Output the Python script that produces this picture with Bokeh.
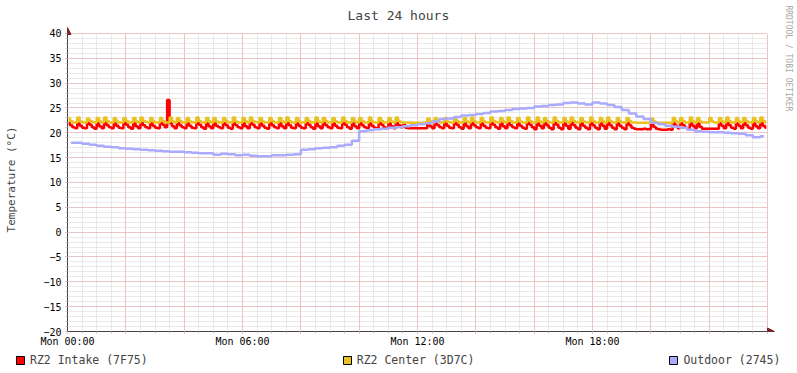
import math
from bokeh.plotting import figure
from bokeh.layouts import column, row
from bokeh.core.properties import value
from bokeh.models import (FixedTicker, Legend, LegendItem, Range1d, Arrow, NormalHead)
from bokeh.embed import file_html
from bokeh.resources import INLINE

# ---------------- data ----------------
TITLE = "Last 24 hours"
Y_LABEL = "Temperature (°C)"
WATERMARK = "RRDTOOL / TOBI OETIKER"
HOUR_TICKS = [0, 6, 12, 18]
HOUR_LABELS = ["Mon 00:00", "Mon 06:00", "Mon 12:00", "Mon 18:00"]
Y_TICKS = [-20, -15, -10, -5, 0, 5, 10, 15, 20, 25, 30, 35, 40]
SERIES_NAMES = ["RZ2 Intake (7F75)", "RZ2 Center (3D7C)", "Outdoor (2745)"]
SERIES_COLORS = ["#FF0000", "#EAC21F", "#AAAAFF"]

RZ2_STEP_MIN = 5      # minutes between samples of the RZ2 sensors
OUTDOOR_STEP_MIN = 15  # minutes between samples of the outdoor sensor

# one row per hour (12 x 5 min)
rz2_intake = [
    22.0, 21.5, 21.1, 20.9, 21.9, 21.4, 21.0, 20.9, 22.0, 21.6, 21.1, 20.8,
    21.9, 21.3, 20.9, 22.0, 21.5, 21.1, 20.9, 21.9, 21.4, 21.0, 20.9, 22.0,
    21.6, 21.1, 20.8, 21.9, 21.3, 20.9, 22.0, 21.5, 21.1, 20.9, 21.9, 21.4,
    21.0, 20.9, 22.0, 21.6, 21.1, 26.6, 21.9, 21.3, 20.9, 22.0, 21.5, 21.1,
    20.9, 21.9, 21.4, 21.0, 20.9, 22.0, 21.6, 21.1, 20.8, 21.9, 21.3, 20.9,
    22.0, 21.4, 21.1, 20.9, 21.9, 21.5, 21.0, 20.8, 22.0, 21.5, 21.1, 20.9,
    21.9, 21.3, 20.9, 22.0, 21.6, 21.1, 20.9, 21.9, 21.4, 21.0, 20.8, 22.0,
    21.5, 21.1, 20.9, 21.9, 21.3, 20.9, 22.0, 21.5, 21.0, 20.9, 21.9, 21.4,
    21.0, 20.9, 22.0, 21.6, 21.1, 20.8, 21.9, 21.3, 20.9, 22.0, 21.5, 21.1,
    20.9, 21.9, 21.4, 21.0, 20.9, 22.0, 21.6, 21.1, 20.8, 21.9, 21.3, 20.9,
    22.0, 21.5, 21.1, 20.9, 21.9, 21.4, 21.0, 20.9, 22.0, 21.6, 21.1, 20.8,
    21.9, 21.3, 20.9, 22.0, 21.5, 21.1, 21.6, 21.0, 20.9, 20.9, 20.9, 20.9,
    20.9, 20.9, 20.9, 20.9, 21.8, 21.3, 20.9, 22.0, 21.5, 21.1, 20.9, 21.9,
    21.4, 21.0, 20.9, 22.0, 21.6, 21.1, 20.8, 21.9, 21.3, 20.9, 22.0, 21.5,
    21.1, 20.9, 21.9, 21.4, 21.0, 20.9, 22.0, 21.6, 21.1, 20.8, 21.9, 21.3,
    20.9, 22.0, 21.5, 21.1, 20.9, 21.9, 21.4, 21.0, 20.8, 22.1, 21.6, 21.1,
    20.7, 22.1, 21.4, 20.9, 22.0, 21.5, 21.0, 20.7, 22.1, 21.6, 21.0, 20.7,
    22.0, 21.4, 20.8, 22.1, 21.5, 21.0, 20.7, 22.0, 21.4, 21.0, 20.7, 22.1,
    21.5, 21.0, 20.7, 22.0, 21.4, 20.8, 22.1, 21.5, 21.0, 20.7, 22.0, 21.4,
    21.0, 20.7, 22.0, 21.5, 21.0, 20.8, 20.7, 20.7, 20.7, 20.8, 20.7, 20.7,
    21.9, 21.2, 20.8, 20.7, 20.6, 20.6, 20.6, 20.7, 20.6, 22.0, 21.4, 20.9,
    21.9, 21.5, 21.0, 20.8, 22.0, 21.4, 20.9, 21.9, 21.2, 20.8, 20.8, 20.8,
    20.8, 20.8, 20.8, 20.8, 21.9, 21.4, 20.9, 22.0, 21.5, 21.0, 20.8, 21.9,
    21.4, 20.9, 22.0, 21.5, 21.0, 20.8, 21.9, 21.3, 20.9, 22.0, 21.4, 21.0,
]

rz2_center = [
    23.0, 22.4, 22.1, 22.1, 23.1, 22.3, 22.1, 22.1, 22.9, 22.4, 22.2, 22.1,
    23.0, 22.3, 22.1, 23.1, 22.4, 22.1, 22.1, 23.0, 22.3, 22.1, 22.1, 23.0,
    22.4, 22.1, 22.1, 23.0, 22.3, 22.1, 23.1, 22.4, 22.2, 22.1, 23.0, 22.3,
    22.1, 22.1, 23.0, 22.4, 22.1, 22.1, 23.1, 22.3, 22.1, 23.0, 22.4, 22.1,
    22.1, 23.0, 22.3, 22.1, 22.1, 23.1, 22.4, 22.1, 22.1, 23.0, 22.3, 22.1,
    23.0, 22.3, 22.1, 22.1, 23.0, 22.4, 22.1, 22.1, 23.1, 22.3, 22.1, 22.1,
    23.0, 22.3, 22.1, 23.1, 22.4, 22.2, 22.1, 23.0, 22.3, 22.1, 22.1, 23.0,
    22.4, 22.1, 22.1, 23.0, 22.3, 22.1, 23.1, 22.4, 22.1, 22.1, 23.0, 22.3,
    22.1, 22.1, 23.0, 22.4, 22.1, 22.1, 23.1, 22.3, 22.1, 23.0, 22.4, 22.1,
    22.1, 23.0, 22.3, 22.1, 22.1, 23.1, 22.4, 22.1, 22.1, 23.0, 22.3, 22.1,
    23.0, 22.4, 22.1, 22.1, 23.1, 22.3, 22.1, 22.1, 23.0, 22.4, 22.1, 22.1,
    23.0, 22.3, 22.1, 23.1, 22.4, 22.1, 22.1, 22.1, 22.0, 22.0, 22.0, 22.0,
    22.0, 22.0, 22.0, 22.1, 22.9, 22.3, 22.1, 23.0, 22.4, 22.1, 22.1, 23.0,
    22.3, 22.1, 22.1, 23.1, 22.4, 22.1, 22.1, 23.0, 22.3, 22.1, 23.1, 22.4,
    22.1, 22.1, 23.0, 22.3, 22.1, 22.1, 23.1, 22.4, 22.2, 22.1, 23.0, 22.3,
    22.1, 23.1, 22.4, 22.1, 22.1, 23.0, 22.3, 22.1, 22.1, 23.1, 22.4, 22.1,
    22.1, 23.1, 22.3, 22.1, 23.0, 22.4, 22.1, 22.1, 23.1, 22.4, 22.1, 22.1,
    23.0, 22.3, 22.1, 23.1, 22.4, 22.1, 22.1, 23.0, 22.3, 22.1, 22.1, 23.1,
    22.4, 22.1, 22.1, 23.0, 22.3, 22.1, 23.1, 22.4, 22.1, 22.1, 23.0, 22.3,
    22.1, 22.1, 23.0, 22.4, 22.1, 22.1, 22.0, 22.0, 22.0, 22.0, 22.0, 22.0,
    22.9, 22.3, 22.1, 22.0, 22.0, 22.0, 22.0, 22.0, 22.0, 23.0, 22.3, 22.1,
    23.0, 22.4, 22.1, 22.1, 23.1, 22.3, 22.1, 23.0, 22.3, 22.1, 22.1, 22.1,
    23.0, 22.3, 22.1, 22.1, 23.0, 22.3, 22.1, 23.1, 22.4, 22.1, 22.1, 23.0,
    22.3, 22.1, 23.0, 22.4, 22.1, 22.1, 23.0, 22.3, 22.1, 23.1, 22.4, 22.1,
]

# one row per hour (4 x 15 min)
outdoor = [
    18.0, 18.0, 17.8, 17.6,
    17.4, 17.2, 17.1, 16.9,
    16.8, 16.7, 16.6, 16.5,
    16.4, 16.3, 16.2, 16.2,
    16.1, 16.0, 15.9, 15.9,
    15.6, 15.8, 15.7, 15.5,
    15.6, 15.4, 15.3, 15.3,
    15.5, 15.5, 15.6, 15.7,
    16.6, 16.7, 16.9, 17.0,
    17.1, 17.4, 17.6, 18.4,
    20.3, 20.5, 20.7, 20.8,
    21.0, 21.1, 21.3, 21.5,
    21.7, 21.9, 22.3, 22.8,
    22.9, 23.2, 23.5, 23.6,
    23.8, 24.0, 24.3, 24.4,
    24.6, 24.8, 24.9, 25.0,
    25.3, 25.4, 25.6, 25.7,
    26.0, 26.1, 25.9, 25.7,
    26.1, 25.9, 25.6, 25.2,
    24.6, 23.9, 23.3, 22.8,
    22.0, 21.7, 21.4, 21.2,
    21.0, 20.6, 20.3, 20.2,
    20.1, 20.1, 20.0, 19.9,
    19.8, 19.5, 19.1, 19.3,
]

assert len(rz2_intake) == 288 and len(rz2_center) == 288 and len(outdoor) == 96

t_rz2 = [(i + 0.5) * RZ2_STEP_MIN / 60.0 for i in range(len(rz2_intake))]
t_out = [(i + 0.5) * OUTDOOR_STEP_MIN / 60.0 for i in range(len(outdoor))]

# ---------------- main figure ----------------
MONO = "DejaVu Sans Mono"
X_MIN, X_MAX, X_END = 0, 24, 24.24
Y_MIN, Y_MAX, Y_END = -20, 40, 41.2

p_main = figure(width=784, height=349, output_backend="svg", toolbar_location=None,
                x_range=Range1d(X_MIN, X_END), y_range=Range1d(Y_MIN, Y_END),
                min_border_left=67, min_border_right=10, min_border_top=27,
                min_border_bottom=16,
                background_fill_color="white", border_fill_color="white")
p_main.outline_line_color = None

# title
p_main.title.text = TITLE
p_main.title.text_font = MONO
p_main.title.text_font_size = "13px"
p_main.title.text_font_style = "normal"
p_main.title.align = "left"
p_main.title.vertical_align = "middle"
p_main.title.offset = 280
p_main.title.standoff = 8

# grids
major_x = list(range(0, 25, 2))
minor_x = [i * 0.5 for i in range(49)]
minor_y = list(range(Y_MIN, Y_MAX + 1))
p_main.xgrid.ticker = FixedTicker(ticks=major_x, minor_ticks=minor_x)
p_main.ygrid.ticker = FixedTicker(ticks=Y_TICKS, minor_ticks=minor_y)
for g in (p_main.xgrid, p_main.ygrid):
    g.grid_line_color = "#EBA0A0"
    g.grid_line_alpha = 1.0
    g.grid_line_dash = "1 1"
    g.minor_grid_line_color = "#D2D2D2"
    g.minor_grid_line_alpha = 1.0
    g.minor_grid_line_dash = "1 1"
p_main.xgrid.cross_bounds = (Y_MIN, Y_MAX)
p_main.ygrid.cross_bounds = (X_MIN, X_MAX)

# axes
AXIS_COLOR = "#4A4040"
p_main.xaxis.ticker = FixedTicker(ticks=major_x, minor_ticks=minor_x)
overrides = {t: "" for t in major_x}
for t, lab in zip(HOUR_TICKS, HOUR_LABELS):
    overrides[t] = lab
p_main.xaxis.major_label_overrides = overrides
p_main.yaxis.ticker = FixedTicker(ticks=Y_TICKS, minor_ticks=minor_y)
for ax in (p_main.xaxis, p_main.yaxis):
    ax.axis_line_color = AXIS_COLOR
    ax.major_tick_line_color = "#E08080"
    ax.minor_tick_line_color = "#C8C8C8"
    ax.major_tick_in = 0
    ax.major_tick_out = 2
    ax.minor_tick_in = 0
    ax.minor_tick_out = 2
    ax.major_label_text_font = MONO
    ax.major_label_text_font_size = "10px"
    ax.major_label_text_color = "black"
p_main.xaxis.major_label_standoff = 2
p_main.yaxis.major_label_standoff = 4
p_main.yaxis.axis_label = Y_LABEL
p_main.yaxis.axis_label_text_font = MONO
p_main.yaxis.axis_label_text_font_size = "11px"
p_main.yaxis.axis_label_text_font_style = "normal"
p_main.yaxis.axis_label_standoff = 22

# axis arrows
ARROW_COLOR = "#7F1F1F"
p_main.add_layout(Arrow(x_start=X_MIN, y_start=Y_END - 0.6, x_end=X_MIN, y_end=Y_END,
                        line_alpha=0,
                        end=NormalHead(size=7, fill_color=ARROW_COLOR, line_color=ARROW_COLOR)))
p_main.add_layout(Arrow(x_start=X_END - 0.2, y_start=Y_MIN, x_end=X_END, y_end=Y_MIN,
                        line_alpha=0,
                        end=NormalHead(size=7, fill_color=ARROW_COLOR, line_color=ARROW_COLOR)))

# data lines
p_main.step(t_rz2, rz2_intake, mode="center", line_color=SERIES_COLORS[0], line_width=2.5)
p_main.step(t_rz2, rz2_center, mode="center", line_color=SERIES_COLORS[1], line_width=2.5)
p_main.step(t_out, outdoor, mode="center", line_color=SERIES_COLORS[2], line_width=2.5)

# ---------------- watermark strip (right edge) ----------------
p_wm = figure(width=13, height=349, output_backend="svg", toolbar_location=None,
              x_range=Range1d(0, 1), y_range=Range1d(0, 1),
              x_axis_type=None, y_axis_type=None,
              min_border_left=0, min_border_right=0, min_border_top=0, min_border_bottom=0,
              background_fill_color="white", border_fill_color="white")
p_wm.outline_line_color = None
p_wm.grid.visible = False
p_wm.text(x=[0.31], y=[0.986], text=[WATERMARK], angle=-math.pi / 2,
          text_align="left", text_baseline="middle",
          text_font=value(MONO), text_font_size="8px", text_color="#A8A8A8")

# ---------------- legend strip ----------------
p_leg = figure(width=797, height=20, output_backend="svg", toolbar_location=None,
               x_range=Range1d(0, 1), y_range=Range1d(0, 1),
               x_axis_type=None, y_axis_type=None,
               min_border_left=0, min_border_right=0, min_border_top=0, min_border_bottom=0,
               background_fill_color="white", border_fill_color="white")
p_leg.outline_line_color = None
p_leg.grid.visible = False

for fig in (p_main, p_wm, p_leg):
    try:
        fig.frame_align = False
    except Exception:
        pass

items = []
for name, col in zip(SERIES_NAMES, SERIES_COLORS):
    r = p_leg.quad(left=[0], right=[0], top=[0], bottom=[0],
                   fill_color=col, line_color="black", visible=False)
    items.append(LegendItem(label=name, renderers=[r]))
legend = Legend(items=items, orientation="horizontal", location=(15, 2),
                spacing=194, glyph_width=10, glyph_height=10, label_standoff=5,
                label_text_font=MONO, label_text_font_size="11.5px",
                label_height=9, padding=0, margin=0, inactive_fill_alpha=0,
                border_line_color=None, background_fill_alpha=0)
p_leg.add_layout(legend)

p = column(row(p_main, p_wm, spacing=0), p_leg, spacing=0)

open("out.html", "w").write(file_html(p, INLINE))
